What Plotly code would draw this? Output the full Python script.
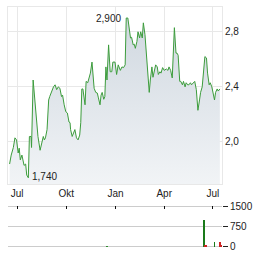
import plotly.graph_objects as go

dates = [
    "2023-06-17", "2023-06-20", "2023-06-24", "2023-06-27", "2023-06-30", "2023-07-03",
    "2023-07-05", "2023-07-07", "2023-07-10", "2023-07-14", "2023-07-17", "2023-07-19",
    "2023-07-22", "2023-07-24", "2023-07-27", "2023-07-28", "2023-07-31", "2023-08-03",
    "2023-08-06", "2023-08-09", "2023-08-13", "2023-08-16", "2023-08-19", "2023-08-21",
    "2023-08-23", "2023-08-26", "2023-08-29", "2023-08-31", "2023-09-04", "2023-09-07",
    "2023-09-10", "2023-09-13", "2023-09-16", "2023-09-19", "2023-09-22", "2023-09-24",
    "2023-09-27", "2023-09-30", "2023-10-03", "2023-10-06", "2023-10-08", "2023-10-09",
    "2023-10-12", "2023-10-14", "2023-10-17", "2023-10-20", "2023-10-23", "2023-10-26",
    "2023-10-28", "2023-10-30", "2023-11-01", "2023-11-05", "2023-11-07", "2023-11-10",
    "2023-11-13", "2023-11-15", "2023-11-18", "2023-11-20", "2023-11-22", "2023-11-25",
    "2023-11-28", "2023-11-30", "2023-12-03", "2023-12-05", "2023-12-07", "2023-12-10",
    "2023-12-12", "2023-12-14", "2023-12-16", "2023-12-19", "2023-12-22", "2023-12-25",
    "2023-12-27", "2023-12-31", "2024-01-03", "2024-01-06", "2024-01-10", "2024-01-13",
    "2024-01-16", "2024-01-19", "2024-01-21", "2024-01-24", "2024-01-27", "2024-01-29",
    "2024-01-31", "2024-02-03", "2024-02-05", "2024-02-07", "2024-02-10", "2024-02-12",
    "2024-02-15", "2024-02-17", "2024-02-20", "2024-02-22", "2024-02-25", "2024-02-27",
    "2024-02-29", "2024-03-02", "2024-03-04", "2024-03-06", "2024-03-09", "2024-03-11",
    "2024-03-14", "2024-03-16", "2024-03-19", "2024-03-21", "2024-03-24", "2024-03-26",
    "2024-03-29", "2024-04-01", "2024-04-05", "2024-04-08", "2024-04-10", "2024-04-13",
    "2024-04-16", "2024-04-18", "2024-04-20", "2024-04-23", "2024-04-25", "2024-04-27",
    "2024-04-30", "2024-05-02", "2024-05-05", "2024-05-07", "2024-05-10", "2024-05-12",
    "2024-05-15", "2024-05-17", "2024-05-20", "2024-05-22", "2024-05-25", "2024-05-28",
    "2024-05-31", "2024-06-02", "2024-06-03", "2024-06-06", "2024-06-08", "2024-06-11",
    "2024-06-13", "2024-06-16", "2024-06-19", "2024-06-21", "2024-06-24", "2024-06-26",
    "2024-06-29", "2024-07-02", "2024-07-04", "2024-07-06", "2024-07-09", "2024-07-11",
    "2024-07-14",
]
prices = [
    1.84, 1.905, 1.96, 2.03, 2.015, 1.92,
    1.955, 1.87, 1.905, 1.83, 1.84, 1.76,
    1.74, 2.04, 2.04, 1.96, 2.45, 2.305,
    2.16, 2.04, 1.94, 1.99, 2.04, 2.015,
    2.03, 2.09, 2.305, 2.33, 2.38, 2.40,
    2.415, 2.38, 2.40, 2.39, 2.33, 2.34,
    2.27, 2.22, 2.21, 2.145, 2.14, 2.09,
    2.04, 2.065, 2.09, 2.03, 2.015, 2.05,
    2.14, 2.385, 2.385, 2.27, 2.44, 2.43,
    2.47, 2.50, 2.58, 2.47, 2.39, 2.36,
    2.355, 2.32, 2.27, 2.34, 2.36, 2.31,
    2.33, 2.545, 2.45, 2.705, 2.51, 2.51,
    2.58, 2.58, 2.49, 2.56, 2.52, 2.545,
    2.54, 2.56, 2.90, 2.90, 2.80, 2.755,
    2.76, 2.705, 2.71, 2.68, 2.73, 2.80,
    2.755, 2.80, 2.755, 2.865, 2.78, 2.68,
    2.54, 2.44, 2.36, 2.45, 2.545, 2.47,
    2.52, 2.56, 2.545, 2.49, 2.51, 2.50,
    2.54, 2.52, 2.53, 2.52, 2.545, 2.52,
    2.465, 2.645, 2.83, 2.645, 2.645, 2.63,
    2.44, 2.44, 2.415, 2.44, 2.40, 2.43,
    2.415, 2.415, 2.43, 2.415, 2.43, 2.44,
    2.38, 2.29, 2.23, 2.305, 2.36, 2.40,
    2.52, 2.62, 2.61, 2.50, 2.415, 2.43,
    2.40, 2.355, 2.305, 2.36, 2.385, 2.37,
    2.385,
]

vol_dates = ["2023-12-16", "2024-06-14", "2024-06-16", "2024-06-19", "2024-07-04", "2024-07-14", "2024-07-16"]
vol_values = [15, 1010, 30, 30, 190, 190, 25]
vol_colors = ["#2e8b2e", "#1a7a1a", "#cc2222", "#cc2222", "#1a7a1a", "#cc2222", "#cc2222"]

tick_dates = ["2023-07-01", "2023-10-01", "2024-01-01", "2024-04-01", "2024-07-01"]
tick_labels = ["Jul", "Okt", "Jan", "Apr", "Jul"]
price_ticks = [2.0, 2.4, 2.8]
price_tick_labels = ["2,0", "2,4", "2,8"]
vol_ticks = [0, 750, 1500]
vol_tick_labels = ["0", "750", "1500"]

max_label = "2,900"
min_label = "1,740"

x_range = ["2023-06-14", "2024-07-18"]
vol_range = [-40, 1560]

FONT = "Liberation Sans, Arial, sans-serif"

fig = go.Figure()

fig.add_trace(go.Scatter(
    x=dates, y=prices, mode="lines",
    line=dict(color="#3c9c3c", width=1),
    fill="tozeroy",
    fillgradient=dict(type="vertical",
                      colorscale=[[0, "rgba(255,255,255,1)"], [0.55, "rgba(244,246,248,1)"], [1, "rgba(208,216,224,1)"]]),
    hoverinfo="skip", xaxis="x", yaxis="y",
))

fig.add_trace(go.Bar(
    x=vol_dates, y=vol_values, marker=dict(color=vol_colors, line=dict(width=0)),
    width=[86400000 * 1.2] * len(vol_dates),
    xaxis="x2", yaxis="y2", hoverinfo="skip",
))

imax = prices.index(max(prices))
imin = prices.index(min(prices))
fig.add_annotation(x=dates[imax], y=prices[imax], text=max_label, showarrow=False,
                   xanchor="right", yanchor="middle", xshift=-3, yshift=0,
                   font=dict(size=10, color="#222", family=FONT), xref="x", yref="y")
fig.add_annotation(x=dates[imin], y=prices[imin], text=min_label, showarrow=False,
                   xanchor="left", yanchor="middle", xshift=2, yshift=1,
                   font=dict(size=10, color="#222", family=FONT), xref="x", yref="y")

vol_top = 0.177

fig.update_layout(
    template="none",
    width=264, height=255,
    margin=dict(l=8, r=42, t=7, b=7, autoexpand=False),
    paper_bgcolor="white", plot_bgcolor="white",
    showlegend=False,
    font=dict(family=FONT, size=10, color="#222"),
    xaxis=dict(
        type="date", range=x_range, domain=[0, 1], automargin=False,
        tickvals=tick_dates, ticktext=tick_labels,
        showgrid=True, gridcolor="#e8e8e8", gridwidth=1,
        showline=True, linecolor="#e8e8e8", mirror=True,
        ticks="", zeroline=False, anchor="y",
        tickfont=dict(size=10, color="#222"),
    ),
    yaxis=dict(
        range=[1.695, 2.98], domain=[0.2656, 1.0], side="right", automargin=False,
        tickvals=price_ticks, ticktext=price_tick_labels,
        showgrid=True, gridcolor="#e8e8e8", gridwidth=1,
        showline=True, linecolor="#e8e8e8", mirror=True,
        ticks="", zeroline=False, anchor="x",
        tickfont=dict(size=10, color="#222"),
    ),
    xaxis2=dict(
        type="date", range=x_range, domain=[0, 1], anchor="free", position=vol_top,
        automargin=False,
        tickvals=tick_dates, showticklabels=False, side="bottom",
        ticks="outside", ticklen=3, tickcolor="#111", tickwidth=1,
        showgrid=False, zeroline=False, showline=False,
    ),
    yaxis2=dict(
        range=vol_range, domain=[0, vol_top], side="right", anchor="x2", automargin=False,
        tickvals=vol_ticks, ticktext=vol_tick_labels,
        showgrid=True, gridcolor="#cccccc", gridwidth=1,
        ticks="outside", ticklen=5, tickcolor="#222", tickwidth=1,
        zeroline=False, showline=False, ticklabeloverflow="allow",
        tickfont=dict(size=10, color="#222"),
    ),
    bargap=0,
)

fig.write_html("out.html")
